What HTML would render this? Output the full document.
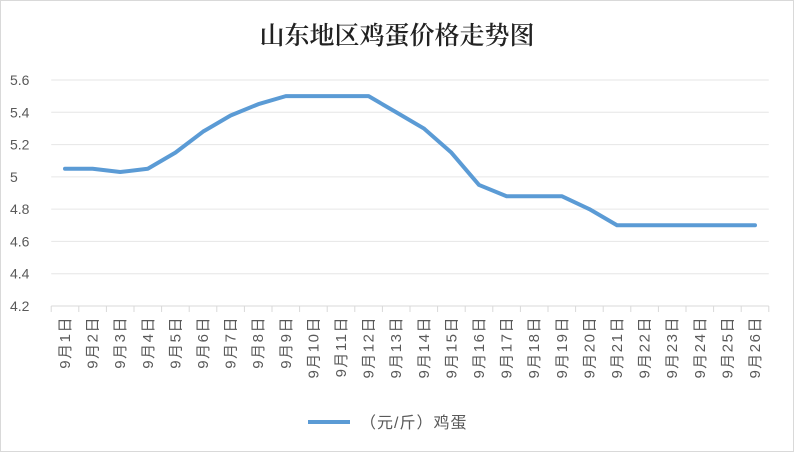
<!DOCTYPE html>
<html><head><meta charset="utf-8"><style>
body{margin:0;background:#fff}
svg{display:block;font-family:"Liberation Sans","Noto Sans CJK SC",sans-serif}
</style></head><body>
<svg id="c" width="794" height="452">
<rect x="0.5" y="0.5" width="793" height="451" fill="#fff" stroke="#d9d9d9"/>
<text x="397" y="44" text-anchor="middle" font-size="25" font-weight="600" font-family="'Liberation Serif','Noto Serif CJK SC',serif" fill="#222">山东地区鸡蛋价格走势图</text>
<g id="grid"></g><g id="xaxis"></g><g id="plot"></g>
<g>
<line x1="308" y1="422" x2="350" y2="422" stroke="#5b9bd5" stroke-width="4"/>
<text x="360" y="428" font-size="16" letter-spacing="1" fill="#595959">（元/斤）鸡蛋</text>
</g>
</svg>
<script>
const categories=["9月1日","9月2日","9月3日","9月4日","9月5日","9月6日","9月7日","9月8日","9月9日","9月10日","9月11日","9月12日","9月13日","9月14日","9月15日","9月16日","9月17日","9月18日","9月19日","9月20日","9月21日","9月22日","9月23日","9月24日","9月25日","9月26日"];
const prices=[5.05,5.05,5.03,5.05,5.15,5.28,5.38,5.45,5.5,5.5,5.5,5.5,5.4,5.3,5.15,4.95,4.88,4.88,4.88,4.8,4.7,4.7,4.7,4.7,4.7,4.7];
const yTicks=[4.2,4.4,4.6,4.8,5,5.2,5.4,5.6];
const ns="http://www.w3.org/2000/svg";
const L=51.2,R=768.8,yMin=4.2,yMax=5.6,T=80,B=306;
const bw=(R-L)/categories.length;
const x=i=>L+bw*(i+0.5);
const y=v=>B-(v-yMin)/(yMax-yMin)*(B-T);
function mk(t,a,p){const e=document.createElementNS(ns,t);for(const k in a)e.setAttribute(k,a[k]);p.appendChild(e);return e;}
const grid=document.getElementById('grid'),xa=document.getElementById('xaxis'),plot=document.getElementById('plot');
yTicks.forEach(v=>{
 const l=mk('line',{x1:L,x2:R,y1:y(v),y2:y(v),stroke:v===yMin?'#d9d9d9':'#e6e6e6','stroke-width':1},grid);
 
 
 const t=mk('text',{x:10,y:y(v)+5,'font-size':14,fill:'#595959'},grid);
 t.textContent=String(v);
 
 
});
for(let i=0;i<=categories.length;i++){
 const tk=mk('line',{x1:L+bw*i,x2:L+bw*i,y1:B,y2:B+6,stroke:'#d9d9d9'},xa);
 
 
}
categories.forEach((c,i)=>{
 const t=mk('text',{transform:`translate(${x(i)+5},${B+10}) rotate(-90)`,'text-anchor':'end','font-size':15,'letter-spacing':1.5,fill:'#595959'},xa);
 t.textContent=c;
 
 
});
const p=mk('polyline',{points:prices.map((v,i)=>x(i)+','+y(v)).join(' '),fill:'none',stroke:'#5b9bd5','stroke-width':4,'stroke-linejoin':'round','stroke-linecap':'round'},plot);


</script>
</body></html>
